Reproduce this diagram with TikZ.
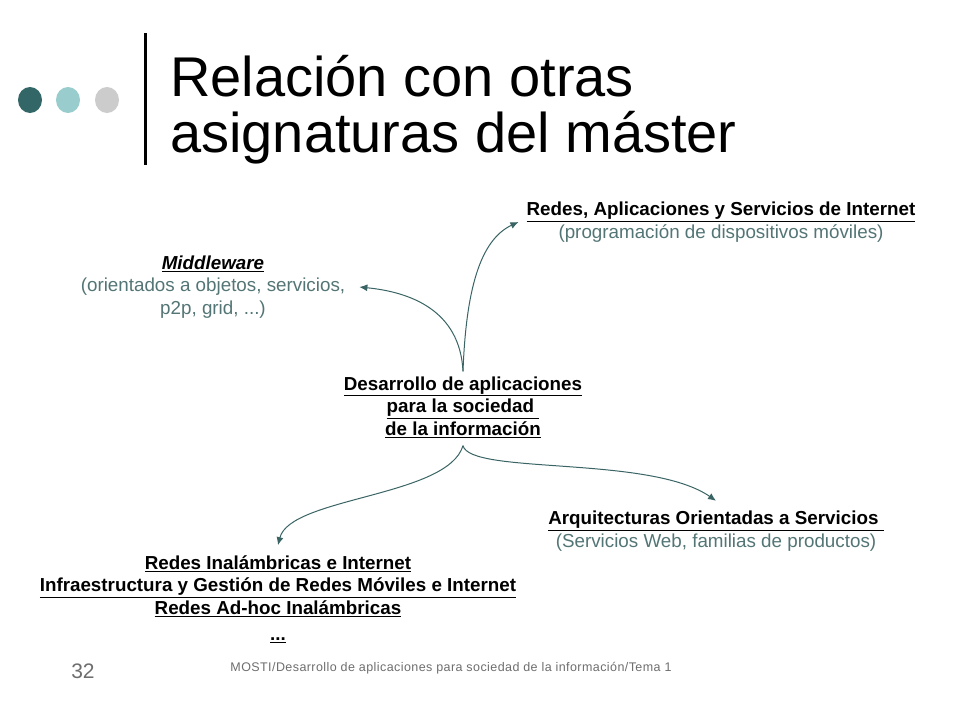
\documentclass[tikz,border=0pt]{standalone}
\usepackage{fontspec}
\setmainfont{Liberation Sans}
\usetikzlibrary{arrows.meta}
\definecolor{teal1}{RGB}{51,102,102}
\definecolor{teal2}{RGB}{153,204,204}
\definecolor{dotgray}{RGB}{204,204,204}
\definecolor{subgray}{RGB}{84,117,117}
\definecolor{arrowcol}{RGB}{58,100,100}
\definecolor{footgray}{RGB}{110,110,110}
\newcommand\ulin[1]{\underline{#1}}
\tikzset{
  body/.style={align=center, inner sep=0pt, font=\fontsize{18.8}{22.5}\selectfont},
  conn/.style={draw=arrowcol, line width=1pt, -{Latex[length=8pt,width=7pt]}},
}
\begin{document}
\begin{tikzpicture}[x=1pt,y=-1pt]
\path[fill=white,use as bounding box] (0,0) rectangle (960,720);
% dots
\fill[teal1] (30,100) ellipse (12 and 13);
\fill[teal2] (68,100) ellipse (12 and 13);
\fill[dotgray] (107,100) ellipse (12 and 13);
% bar
\draw[line width=3pt] (145,33) -- (145,165);
% title
\node[anchor=base west, inner sep=0pt, font=\fontsize{56}{56}\selectfont] (t1) at (170,96) {Relación con otras};
\node[anchor=base west, inner sep=0pt, font=\fontsize{56}{56}\selectfont] (t2) at (170,152) {asignaturas del máster};
% nodes
\node[body] (center) at (463,407) {\textbf{\ulin{Desarrollo de aplicaciones}}\\\textbf{\ulin{para la sociedad\ }}\\\textbf{\ulin{de la información}}};
\node[body] (inet) at (721,222) {\textbf{\ulin{Redes, Aplicaciones y Servicios de Internet}}\\\textcolor{subgray}{(programación de dispositivos móviles)}};
\node[body] (mw) at (213,287) {\textbf{\textit{\ulin{Middleware}}}\\\textcolor{subgray}{(orientados a objetos, servicios,}\\\textcolor{subgray}{p2p, grid, ...)}};
\node[body] (arq) at (716,531) {\textbf{\ulin{Arquitecturas Orientadas a Servicios\ }}\\\textcolor{subgray}{(Servicios Web, familias de productos)}};
\node[body] (redes) at (278,599) {\textbf{\ulin{Redes Inalámbricas e Internet}}\\\textbf{\ulin{Infraestructura y Gestión de Redes Móviles e Internet}}\\\textbf{\ulin{Redes Ad-hoc Inalámbricas}}\\[4pt]\textbf{\ulin{...}}};
% footer
\node[inner sep=0pt, text=footgray, font=\fontsize{21}{21}\selectfont] (num) at (83,671) {32};
\node[inner sep=0pt, text=footgray, font=\fontsize{12.5}{12.5}\selectfont\addfontfeature{LetterSpace=3.4}] (foot) at (451,668) {MOSTI/Desarrollo de aplicaciones para sociedad de la información/Tema 1};
% connectors
\draw[conn] ([yshift=5pt]center.north) .. controls (460,310) and (410,292) .. ([xshift=14pt]mw.east);
\draw[conn] ([yshift=5pt]center.north) .. controls (466,290) and (480,240) .. ([xshift=-8pt]inet.west);
\draw[conn] ([yshift=-8pt]center.south) .. controls (448,497) and (290,497) .. ([yshift=10pt]redes.north);
\draw[conn] ([yshift=-8pt]center.south) .. controls (470,475) and (650,455) .. ([yshift=10pt]arq.north);
\end{tikzpicture}
\end{document}
